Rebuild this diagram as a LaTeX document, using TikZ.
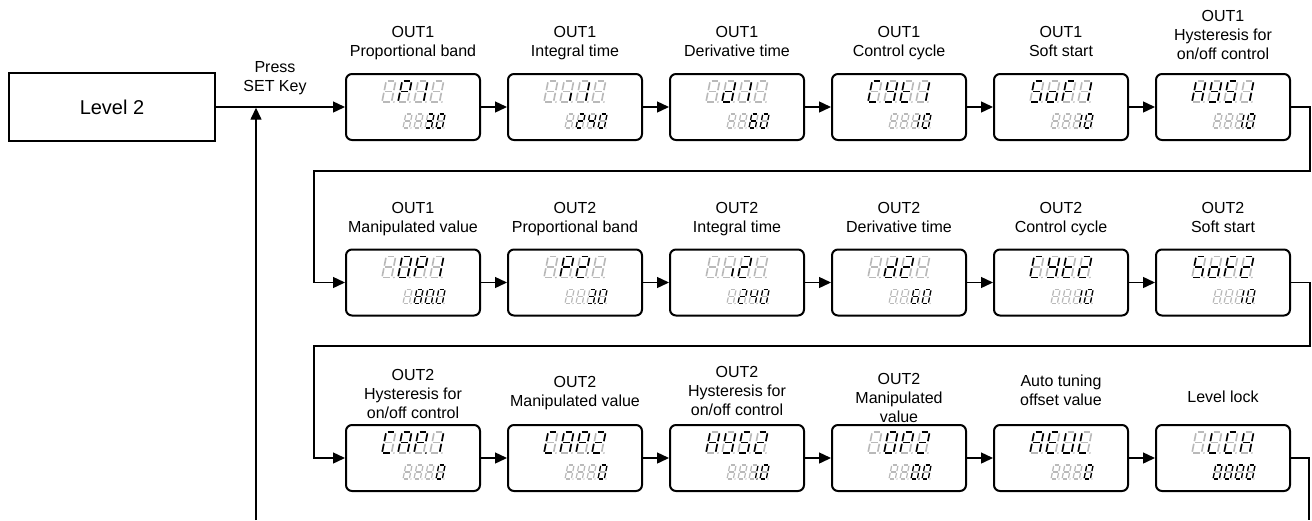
\documentclass[tikz,border=0pt]{standalone}
\usepackage{fontspec}
\setmainfont{Liberation Sans}
\usetikzlibrary{arrows.meta}
\definecolor{segoffc}{RGB}{185,185,185}

% one segment (or decimal point) of a slanted seven-segment digit
\newcommand\SEGdraw[1]{%
  \if#1a\draw[line width=\slw pt,draw=\sgcol] (\sgap,\sh)--(\sw-\sgap,\sh);\fi
  \if#1b\draw[line width=\slw pt,draw=\sgcol] (\sw,\sh-\sgap)--(\sw,\sh/2+\sgap);\fi
  \if#1c\draw[line width=\slw pt,draw=\sgcol] (\sw,\sh/2-\sgap)--(\sw,\sgap);\fi
  \if#1d\draw[line width=\slw pt,draw=\sgcol] (\sgap,0)--(\sw-\sgap,0);\fi
  \if#1e\draw[line width=\slw pt,draw=\sgcol] (0,\sgap)--(0,\sh/2-\sgap);\fi
  \if#1f\draw[line width=\slw pt,draw=\sgcol] (0,\sh/2+\sgap)--(0,\sh-\sgap);\fi
  \if#1g\draw[line width=\slw pt,draw=\sgcol] (\sgap,\sh/2)--(\sw-\sgap,\sh/2);\fi
  \if#1p\fill[fill=\sgcol] (\sw+\dpx,0) circle[radius=\dpr pt];\fi
}
\def\SEGloop#1{\ifx#1\relax\else\SEGdraw{#1}\expandafter\SEGloop\fi}
% #1 x, #2 y (bottom-left), #3 width, #4 height, #5 gap, #6 lit segments
\newcommand\Dig[6]{%
  \begin{scope}[shift={(#1,#2)},xslant=0.2]
    \def\sw{#3}\def\sh{#4}\def\sgap{#5}%
    \def\sgcol{segoffc}\SEGloop abcdefgp\relax
    \def\sgcol{black}\expandafter\SEGloop#6\relax
  \end{scope}}
% #1 box node, #2-#5 upper digits, #6-#9 lower digits
\newcommand\Disp[9]{%
  \begin{scope}[shift={(#1.center)}]
    \def\slw{1.6}\def\dpr{0.95}\def\dpx{2.4}%
    \Dig{-31}{5}{9.5}{21}{1.3}{#2}\Dig{-15}{5}{9.5}{21}{1.3}{#3}%
    \Dig{1}{5}{9.5}{21}{1.3}{#4}\Dig{17}{5}{9.5}{21}{1.3}{#5}%
    \def\slw{1.25}\def\dpr{0.75}\def\dpx{1.7}%
    \Dig{-10}{-21}{6.3}{14}{0.9}{#6}\Dig{1}{-21}{6.3}{14}{0.9}{#7}%
    \Dig{12}{-21}{6.3}{14}{0.9}{#8}\Dig{23}{-21}{6.3}{14}{0.9}{#9}%
  \end{scope}}

\begin{document}
\begin{tikzpicture}[x=1pt,y=1pt,
  conn/.style={line width=1.4pt,draw=black},
  arr/.style={conn,-{Triangle[length=12pt,width=11pt]}},
  disp/.style={draw,line width=2pt,rounded corners=6pt,minimum width=134pt,minimum height=66pt,inner sep=0pt},
  lbl/.style={font=\fontsize{16}{19}\selectfont,align=center,anchor=north,inner sep=0pt},
  lvlbox/.style={draw,line width=1.7pt,minimum width=206.3pt,minimum height=68.3pt,inner sep=0pt,font=\fontsize{20}{24}\selectfont}]
\useasboundingbox (0,0) rectangle (1312,-520);

\node[lvlbox] (lvl) at (112,-107) {Level 2};
\node[lbl] (press) at (275,-61.1) {Press\\SET Key};

% display boxes
\node[disp] (b11) at (413,-107) {};
\node[disp] (b12) at (575,-107) {};
\node[disp] (b13) at (737,-107) {};
\node[disp] (b14) at (899,-107) {};
\node[disp] (b15) at (1061,-107) {};
\node[disp] (b16) at (1223,-107) {};
\node[disp] (b21) at (413,-282.5) {};
\node[disp] (b22) at (575,-282.5) {};
\node[disp] (b23) at (737,-282.5) {};
\node[disp] (b24) at (899,-282.5) {};
\node[disp] (b25) at (1061,-282.5) {};
\node[disp] (b26) at (1223,-282.5) {};
\node[disp] (b31) at (413,-458) {};
\node[disp] (b32) at (575,-458) {};
\node[disp] (b33) at (737,-458) {};
\node[disp] (b34) at (899,-458) {};
\node[disp] (b35) at (1061,-458) {};
\node[disp] (b36) at (1223,-458) {};

% labels
\node[lbl] (l11) at (413,-26.1) {OUT1\\Proportional band};
\node[lbl] (l12) at (575,-26.1) {OUT1\\Integral time};
\node[lbl] (l13) at (737,-26.1) {OUT1\\Derivative time};
\node[lbl] (l14) at (899,-26.1) {OUT1\\Control cycle};
\node[lbl] (l15) at (1061,-26.1) {OUT1\\Soft start};
\node[lbl] (l16) at (1223,-10.1) {OUT1\\Hysteresis for\\on/off control};
\node[lbl] (l21) at (413,-202.1) {OUT1\\Manipulated value};
\node[lbl] (l22) at (575,-202.1) {OUT2\\Proportional band};
\node[lbl] (l23) at (737,-202.1) {OUT2\\Integral time};
\node[lbl] (l24) at (899,-202.1) {OUT2\\Derivative time};
\node[lbl] (l25) at (1061,-202.1) {OUT2\\Control cycle};
\node[lbl] (l26) at (1223,-202.1) {OUT2\\Soft start};
\node[lbl] (l31) at (413,-369.1) {OUT2\\Hysteresis for\\on/off control};
\node[lbl] (l32) at (575,-376.1) {OUT2\\Manipulated value};
\node[lbl] (l33) at (737,-366.1) {OUT2\\Hysteresis for\\on/off control};
\node[lbl] (l34) at (899,-373.1) {OUT2\\Manipulated\\value};
\node[lbl] (l35) at (1061,-375.1) {Auto tuning\\offset value};
\node[lbl] (l36) at (1223,-391.1) {Level lock};

% seven-segment contents
\Disp{b11}{}{abefg}{bc}{}{}{}{abcdgp}{abcdef}
\Disp{b12}{}{c}{bc}{}{}{abdeg}{bcfg}{abcdef}
\Disp{b13}{}{bcdeg}{bc}{}{}{}{acdefg}{abcdef}
\Disp{b14}{adef}{bcdfg}{defg}{bc}{}{}{bc}{abcdef}
\Disp{b15}{acdfg}{cdeg}{aefg}{bc}{}{}{bc}{abcdef}
\Disp{b16}{bcefg}{bcdfg}{acdfg}{bc}{}{}{bcp}{abcdef}
\Disp{b21}{}{abcdef}{abefg}{bc}{}{abcdefg}{abcdefp}{abcdef}
\Disp{b22}{}{abefg}{abdeg}{}{}{}{abcdgp}{abcdef}
\Disp{b23}{}{c}{abdeg}{}{}{abdeg}{bcfg}{abcdef}
\Disp{b24}{}{bcdeg}{abdeg}{}{}{}{acdefg}{abcdef}
\Disp{b25}{adef}{bcdfg}{defg}{abdeg}{}{}{bc}{abcdef}
\Disp{b26}{acdfg}{cdeg}{aefg}{abdeg}{}{}{bc}{abcdef}
\Disp{b31}{adef}{abcefg}{abefgp}{bc}{}{}{}{abcdef}
\Disp{b32}{adef}{abcefg}{abefgp}{abdeg}{}{}{}{abcdef}
\Disp{b33}{bcefg}{bcdfg}{acdfg}{abdeg}{}{}{bcp}{abcdef}
\Disp{b34}{}{abcdef}{abefg}{abdeg}{}{}{abcdefp}{abcdef}
\Disp{b35}{abcefg}{adefg}{bcdef}{def}{}{}{}{abcdef}
\Disp{b36}{}{def}{adef}{bcefg}{abcdef}{abcdef}{abcdef}{abcdef}

% connectors
\draw[arr] (lvl.east) -- (b11.west);
\foreach \r in {1,2,3}{
  \foreach \c/\n in {1/2,2/3,3/4,4/5,5/6}{
    \draw[arr] (b\r\c.east) -- (b\r\n.west);
  }
}
\coordinate (lr1) at (1310,-171);
\coordinate (ll1) at (314,-171);
\draw[arr] (b16.east) -| (lr1) -- (ll1) |- (b21.west);
\coordinate (lr2) at (1310,-346);
\coordinate (ll2) at (314,-346);
\draw[arr] (b26.east) -| (lr2) -- (ll2) |- (b31.west);
\coordinate (er) at (1309,-520);
\draw[conn] (b36.east) -| (er);
\coordinate (el) at (256,-520);
\coordinate (jn) at (256,-107.7);
\draw[arr] (el) -- (jn);
\end{tikzpicture}
\end{document}
